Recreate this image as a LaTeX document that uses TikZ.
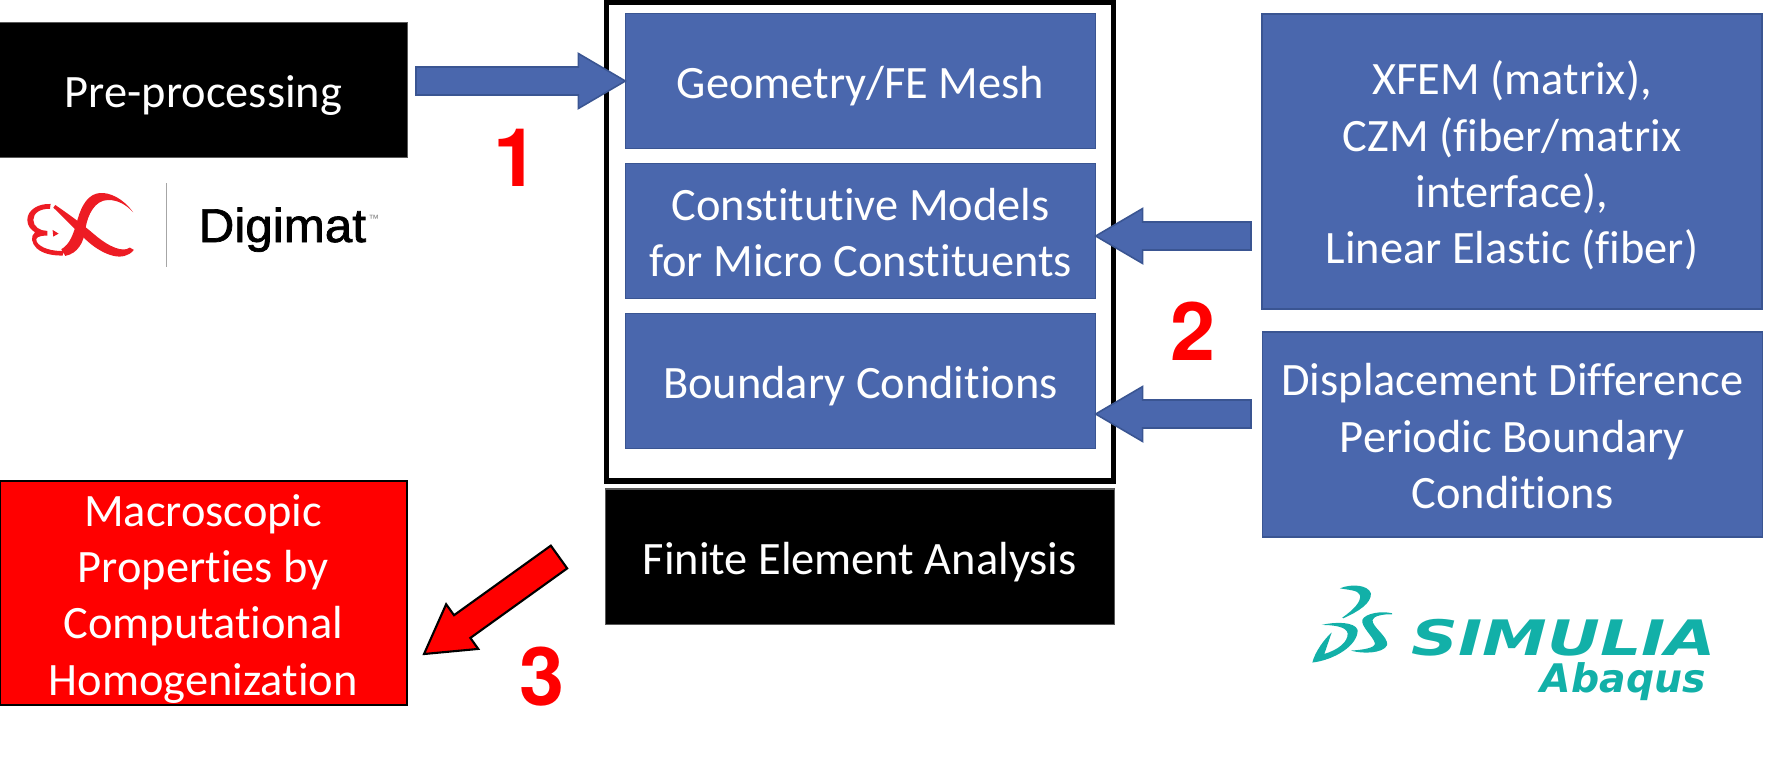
\documentclass[tikz,border=0pt]{standalone}
\usepackage{fontspec}
\setmainfont{Carlito}[Ligatures=NoCommon]
\newfontfamily\numfont{TeX Gyre Heros}
\newfontfamily\digifont[FakeBold=1.5]{Liberation Sans}
\newfontfamily\plainfont{Liberation Sans}
\newfontfamily\logofont{DejaVu Sans}
\usetikzlibrary{calc}

\definecolor{boxblue}{HTML}{4A67AD}
\definecolor{edgeblue}{HTML}{3A5592}
\definecolor{digired}{HTML}{ED1C24}
\definecolor{simteal}{HTML}{12B0A8}

\newcommand{\linebox}{\rule[-0.269em]{0pt}{1.3em}}
\newcommand{\shafthalf}{0.14cm}
\newcommand{\headhalf}{0.275cm}
\newcommand{\headlen}{0.47cm}

\tikzset{
  textbox/.style={inner sep=0, outer sep=0, align=center, text=white,
    font=\fontsize{13.2}{16}\selectfont,
    execute at begin node=\linebox, execute at end node=\linebox},
  bluebox/.style={textbox, draw=edgeblue, fill=boxblue, line width=0.45pt},
  blackbox/.style={textbox, draw=black!65, fill=black, line width=0.3pt},
  redbox/.style={textbox, draw=black, fill=red, line width=0.6pt, inner ysep=-3pt},
  framebox/.style={draw=black, fill=white, line width=1.6pt, inner sep=0, outer sep=0},
  stepnum/.style={inner sep=0, text=red, font=\numfont\bfseries\fontsize{23}{25}\selectfont},
  blockarrow/.style={to path={
    ($(\tikztotarget)!\headlen!(\tikztostart)$) coordinate (headbase)
    ($(\tikztostart)!\shafthalf!90:(\tikztotarget)$)
    -- ($(headbase)!\shafthalf!90:(\tikztotarget)$)
    -- ($(headbase)!\headhalf!90:(\tikztotarget)$)
    -- (\tikztotarget)
    -- ($(headbase)!\headhalf!-90:(\tikztotarget)$)
    -- ($(headbase)!\shafthalf!-90:(\tikztotarget)$)
    -- ($(\tikztostart)!\shafthalf!-90:(\tikztotarget)$)
    -- cycle}},
  bluearrow/.style={blockarrow, draw=edgeblue, fill=boxblue, line width=0.45pt},
  redarrow/.style={blockarrow, draw=black, fill=red, line width=0.6pt}
}

\begin{document}
\begin{tikzpicture}[x=0.01cm, y=-0.01cm]
\useasboundingbox (0,0) rectangle (1786,769);

\node [framebox, minimum width=5.07cm, minimum height=4.79cm] (femframe) at (860,241.5) {};

\node [blackbox, minimum width=4.07cm, minimum height=1.34cm] (pre) at (203.5,90) {Pre-processing};
\node [bluebox, minimum width=4.7cm, minimum height=1.35cm] (geom) at (860.5,81) {Geometry/FE Mesh};
\node [bluebox, minimum width=4.7cm, minimum height=1.35cm] (const) at (860.5,231) {\linebox Constitutive Models\\for Micro Constituents};
\node [bluebox, minimum width=4.7cm, minimum height=1.35cm] (bound) at (860.5,381) {Boundary Conditions};
\node [blackbox, minimum width=5.085cm, minimum height=1.35cm] (fea) at (859.75,556.5) {Finite Element Analysis};
\node [bluebox, minimum width=5cm, minimum height=2.95cm] (xfem) at (1512,161.5) {\linebox XFEM (matrix),\\CZM (fiber/matrix\\interface),\\Linear Elastic (fiber)};
\node [bluebox, minimum width=5cm, minimum height=2.05cm] (disp) at (1512.5,434.5) {\linebox Displacement Difference\\Periodic Boundary\\Conditions};
\node [redbox, minimum width=4.065cm, minimum height=2.24cm] (macro) at (203.25,593) {\linebox Macroscopic\\Properties by\\Computational\\Homogenization};

\coordinate (preOut) at (416,81);
\coordinate (xfemOut) at (1251,236);
\coordinate (dispOut) at (1251,414);
\coordinate (constIn) at (const.east |- xfemOut);
\coordinate (boundIn) at (bound.east |- dispOut);
\coordinate (feaOut) at (559,557);
\coordinate (macroIn) at (424,654);

\draw [bluearrow] (preOut) to (geom.west);
\draw [bluearrow] (xfemOut) to (constIn);
\draw [bluearrow] (dispOut) to (boundIn);
\draw [redarrow] (feaOut) to (macroIn);

\node [stepnum] (one) at (516,158) {1};
\node [stepnum] (two) at (1193,331) {2};
\node [stepnum] (three) at (541.5,676.5) {3};

% Digimat logo
\begin{scope}[shift={(20,185)}, x=0.00333cm, y=-0.00333cm]
\fill [digired] (340,82) .. controls (310,40) and (270,22) .. (240,24)
  .. controls (205,27) and (186,60) .. (174,100)
  .. controls (160,150) and (150,178) .. (124,193) -- (136,213)
  .. controls (172,206) and (192,175) .. (197,130)
  .. controls (203,90) and (225,45) .. (265,45)
  .. controls (295,45) and (320,60) .. (340,82) -- cycle;
\fill [digired] (100,68) .. controls (140,105) and (175,145) .. (210,175)
  .. controls (250,208) and (310,235) .. (342,195) -- (330,188)
  .. controls (310,203) and (270,188) .. (225,150)
  .. controls (190,120) and (150,90) .. (106,60) -- cycle;
\fill [digired] (92,57) .. controls (55,55) and (22,75) .. (22,105)
  .. controls (22,125) and (35,135) .. (45,142)
  .. controls (30,155) and (35,175) .. (50,190)
  .. controls (70,208) and (100,212) .. (128,212) -- (132,198)
  .. controls (100,200) and (60,190) .. (50,170)
  .. controls (45,158) and (55,152) .. (82,152) -- (82,138)
  .. controls (60,138) and (40,125) .. (40,105)
  .. controls (40,85) and (60,70) .. (90,72) -- cycle;
\fill [digired] (98,135) -- (116,146) -- (100,155) -- cycle;
\end{scope}
\draw [black!35, line width=0.3pt] (166.5,183) -- (166.5,267);
\node [anchor=base west, inner sep=0, text=black] (digimat) at (198,242)
  {\digifont\fontsize{13.5}{15}\selectfont\scalebox{1.04}[1]{Digimat}};
\node [anchor=base west, inner sep=0, text=black!50] (tm) at (368,222)
  {\plainfont\fontsize{3}{3}\selectfont ™};

% SIMULIA logo
\begin{scope}[shift={(1305,580)}, x=0.00333cm, y=-0.00333cm, simteal]
\fill (105,25) .. controls (140,10) and (190,15) .. (198,40)
  .. controls (200,70) and (160,95) .. (115,115) -- (112,113)
  .. controls (145,90) and (170,65) .. (165,45)
  .. controls (160,30) and (130,30) .. (105,25) -- cycle;
\fill (50,135) .. controls (90,125) and (150,125) .. (158,150)
  .. controls (160,195) and (90,240) .. (22,248)
  .. controls (30,215) and (60,175) .. (80,158)
  -- (58,222) .. controls (100,210) and (130,185) .. (128,160)
  .. controls (125,140) and (85,135) .. (50,135) -- cycle;
\fill (262,100) .. controls (230,92) and (180,100) .. (172,120)
  .. controls (168,140) and (205,170) .. (210,190)
  .. controls (212,205) and (170,210) .. (138,212)
  .. controls (170,222) and (235,222) .. (247,195)
  .. controls (250,170) and (200,140) .. (203,120)
  .. controls (205,108) and (235,102) .. (262,103) -- cycle;
\end{scope}
\node [anchor=base west, inner sep=0, text=simteal] (simulia) at (1411,655)
  {\logofont\bfseries\itshape\fontsize{13.9}{15}\selectfont\scalebox{1.33}[1]{SIMULIA}};
\node [anchor=base west, inner sep=0, text=simteal] (abaqus) at (1540,692)
  {\logofont\bfseries\itshape\fontsize{11.2}{13}\selectfont Abaqus};

\end{tikzpicture}
\end{document}
